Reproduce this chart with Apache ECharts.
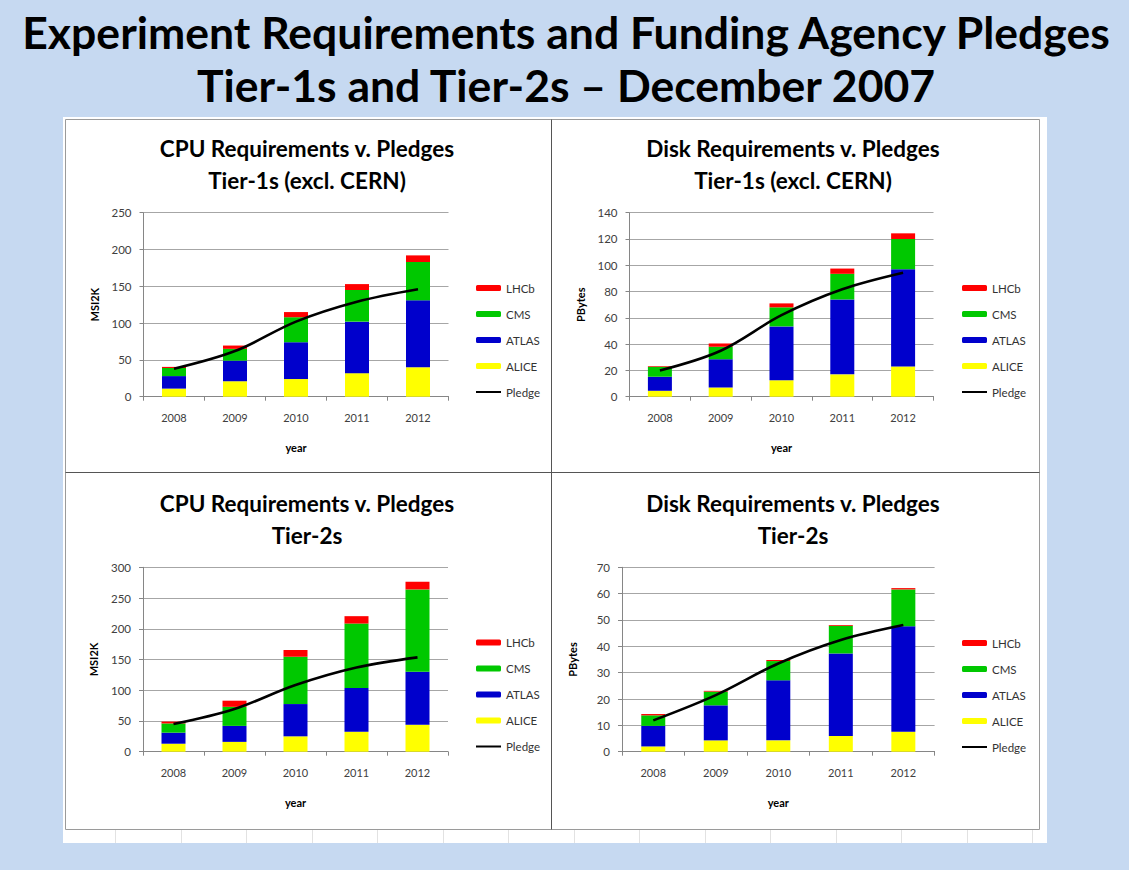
<!DOCTYPE html>
<html><head><meta charset="utf-8">
<script src="https://cdn.jsdelivr.net/npm/echarts@6/dist/echarts.min.js"></script>
<style>html,body{margin:0;padding:0;background:#c6d9f1}#c{width:1129px;height:870px}</style>
</head><body><div id="c"></div>
<script>
// ---- data ----
const years = ['2008', '2009', '2010', '2011', '2012'];
const legendNames = ['LHCb', 'CMS', 'ATLAS', 'ALICE', 'Pledge'];

const cpuT1Alice  = [11, 21, 24, 32, 40];
const cpuT1Atlas  = [17, 28, 50, 70, 91];
const cpuT1Cms    = [11, 16, 34, 43, 52];
const cpuT1Lhcb   = [1.5, 4.5, 7, 8, 9];
const cpuT1Pledge = [38, 62, 102, 129, 146];

const diskT1Alice  = [4.5, 7, 12.5, 17, 23];
const diskT1Atlas  = [10.7, 21.5, 41, 57, 74];
const diskT1Cms    = [7.6, 9.5, 14.5, 19.5, 23];
const diskT1Lhcb   = [0.5, 2.5, 3, 4, 4.3];
const diskT1Pledge = [20, 35, 62, 81.7, 94.3];

const cpuT2Alice  = [13, 16, 25, 32.5, 44];
const cpuT2Atlas  = [18, 26, 52.5, 71, 86];
const cpuT2Cms    = [15, 31, 77, 105, 134];
const cpuT2Lhcb   = [3, 10, 11, 12, 12.5];
const cpuT2Pledge = [45, 69.5, 108.5, 137, 153.5];

const diskT2Alice  = [2, 4.3, 4.3, 6, 7.6];
const diskT2Atlas  = [7.8, 13.3, 22.8, 31.3, 40];
const diskT2Cms    = [4, 5.2, 7.3, 10.5, 14];
const diskT2Lhcb   = [0.5, 0.3, 0.4, 0.3, 0.5];
const diskT2Pledge = [11.9, 21.5, 33.5, 42.4, 48.1];

const mainTitle1 = 'Experiment Requirements and Funding Agency Pledges';
const mainTitle2 = 'Tier-1s and Tier-2s \u2013 December 2007';

// ---- layout / style ----
const FONT = 'Lato, "Open Sans", sans-serif';
const COLORS = { ALICE: '#ffff00', ATLAS: '#0000cc', CMS: '#00c800', LHCb: '#ff0000' };

const panels = [
  { t1: 'CPU Requirements v. Pledges', t2: 'Tier-1s (excl. CERN)', unit: 'MSI2K', max: 250, interval: 50,
    d: [cpuT1Alice, cpuT1Atlas, cpuT1Cms, cpuT1Lhcb, cpuT1Pledge],
    grid: { left: 143.5, top: 212.7, width: 305, height: 184 }, tx: 307, ty: 148, lg: { left: 470, top: 276 } },
  { t1: 'Disk Requirements v. Pledges', t2: 'Tier-1s (excl. CERN)', unit: 'PBytes', max: 140, interval: 20,
    d: [diskT1Alice, diskT1Atlas, diskT1Cms, diskT1Lhcb, diskT1Pledge],
    grid: { left: 629.5, top: 212.7, width: 304, height: 184 }, tx: 793, ty: 148, lg: { left: 956, top: 276 } },
  { t1: 'CPU Requirements v. Pledges', t2: 'Tier-2s', unit: 'MSI2K', max: 300, interval: 50,
    d: [cpuT2Alice, cpuT2Atlas, cpuT2Cms, cpuT2Lhcb, cpuT2Pledge],
    grid: { left: 143, top: 567.3, width: 305, height: 184.4 }, tx: 307, ty: 503, lg: { left: 470, top: 630.5 } },
  { t1: 'Disk Requirements v. Pledges', t2: 'Tier-2s', unit: 'PBytes', max: 70, interval: 10,
    d: [diskT2Alice, diskT2Atlas, diskT2Cms, diskT2Lhcb, diskT2Pledge],
    grid: { left: 622, top: 567.3, width: 312.6, height: 184.4 }, tx: 793, ty: 503, lg: { left: 956, top: 631 } }
];

const grids = [], xAxes = [], yAxes = [], series = [], legends = [];
const graphics = [
  { type: 'rect', z: -10, shape: { x: 63, y: 117, width: 984, height: 726 }, style: { fill: '#ffffff' } },
  { type: 'rect', z: -9, shape: { x: 65.5, y: 119.5, width: 974, height: 710 }, style: { fill: 'none', stroke: '#9a9a9a', lineWidth: 1 } },
  { type: 'line', z: -9, shape: { x1: 551.5, y1: 119.5, x2: 551.5, y2: 829.5 }, style: { stroke: '#555555', lineWidth: 1 } },
  { type: 'line', z: -9, shape: { x1: 65.5, y1: 472.5, x2: 1039.5, y2: 472.5 }, style: { stroke: '#555555', lineWidth: 1 } },
  { type: 'text', x: 566, y: 31, style: { text: mainTitle1, fontSize: 44.5, fontWeight: 'bold', fontFamily: FONT, fill: '#000', align: 'center', verticalAlign: 'middle' } },
  { type: 'text', x: 566, y: 84, style: { text: mainTitle2, fontSize: 44.5, fontWeight: 'bold', fontFamily: FONT, fill: '#000', align: 'center', verticalAlign: 'middle' } }
];
// faint spreadsheet cell lines below the panel
for (let x = 115; x < 1045; x += 65.5) {
  graphics.push({ type: 'line', z: -9, shape: { x1: Math.round(x) + 0.5, y1: 830, x2: Math.round(x) + 0.5, y2: 843 }, style: { stroke: '#e2e2e2', lineWidth: 1 } });
}

panels.forEach((p, i) => {
  grids.push(Object.assign({ containLabel: false }, p.grid));
  xAxes.push({
    type: 'category', gridIndex: i, data: years,
    name: 'year', nameLocation: 'middle', nameGap: 45,
    nameTextStyle: { fontFamily: FONT, fontSize: 11, fontWeight: 'bold', color: '#000' },
    axisLine: { lineStyle: { color: '#868686' } },
    axisTick: { show: true, length: 4, lineStyle: { color: '#868686' } },
    axisLabel: { fontFamily: FONT, fontSize: 11, color: '#404040', margin: 15 }
  });
  yAxes.push({
    type: 'value', gridIndex: i, min: 0, max: p.max, interval: p.interval,
    name: p.unit, nameLocation: 'middle', nameGap: 44,
    nameTextStyle: { fontFamily: FONT, fontSize: 11, fontWeight: 'bold', color: '#000' },
    axisLine: { show: true, lineStyle: { color: '#868686' } },
    axisTick: { show: true, length: 4, lineStyle: { color: '#868686' } },
    splitLine: { lineStyle: { color: '#a6a6a6' } },
    axisLabel: { fontFamily: FONT, fontSize: 11.5, color: '#404040', margin: 12 }
  });
  ['ALICE', 'ATLAS', 'CMS', 'LHCb'].forEach((n, k) => {
    series.push({
      name: n, type: 'bar', stack: 's' + i, xAxisIndex: i, yAxisIndex: i,
      barWidth: 24, data: p.d[k], itemStyle: { color: COLORS[n] }, emphasis: { disabled: true }
    });
  });
  series.push({
    name: 'Pledge', type: 'line', xAxisIndex: i, yAxisIndex: i, data: p.d[4],
    smooth: 0.35, symbol: 'none', lineStyle: { color: '#000', width: 2.6 }, itemStyle: { color: '#000' }, z: 5
  });
  legends.push({
    orient: 'vertical', left: p.lg.left, top: p.lg.top,
    data: legendNames.map(n => n === 'Pledge'
      ? { name: n, itemStyle: { opacity: 0 }, lineStyle: { width: 2 } }
      : { name: n }),
    itemWidth: 25, itemHeight: 6, itemGap: 12, itemTextGap: 4, selectedMode: false,
    textStyle: { fontFamily: FONT, fontSize: 11.5, color: '#333', lineHeight: 14 }
  });
  graphics.push({ type: 'text', x: p.tx, y: p.ty, style: { text: p.t1, fontSize: 22.5, fontWeight: 'bold', fontFamily: FONT, fill: '#000', align: 'center', verticalAlign: 'middle' } });
  graphics.push({ type: 'text', x: p.tx, y: p.ty + 32, style: { text: p.t2, fontSize: 22.5, fontWeight: 'bold', fontFamily: FONT, fill: '#000', align: 'center', verticalAlign: 'middle' } });
});

const chart = echarts.init(document.getElementById('c'), null, { renderer: 'svg' });
chart.setOption({
  backgroundColor: '#c6d9f1',
  animation: false,
  grid: grids, xAxis: xAxes, yAxis: yAxes, series: series, legend: legends,
  graphic: graphics
});
</script></body></html>
